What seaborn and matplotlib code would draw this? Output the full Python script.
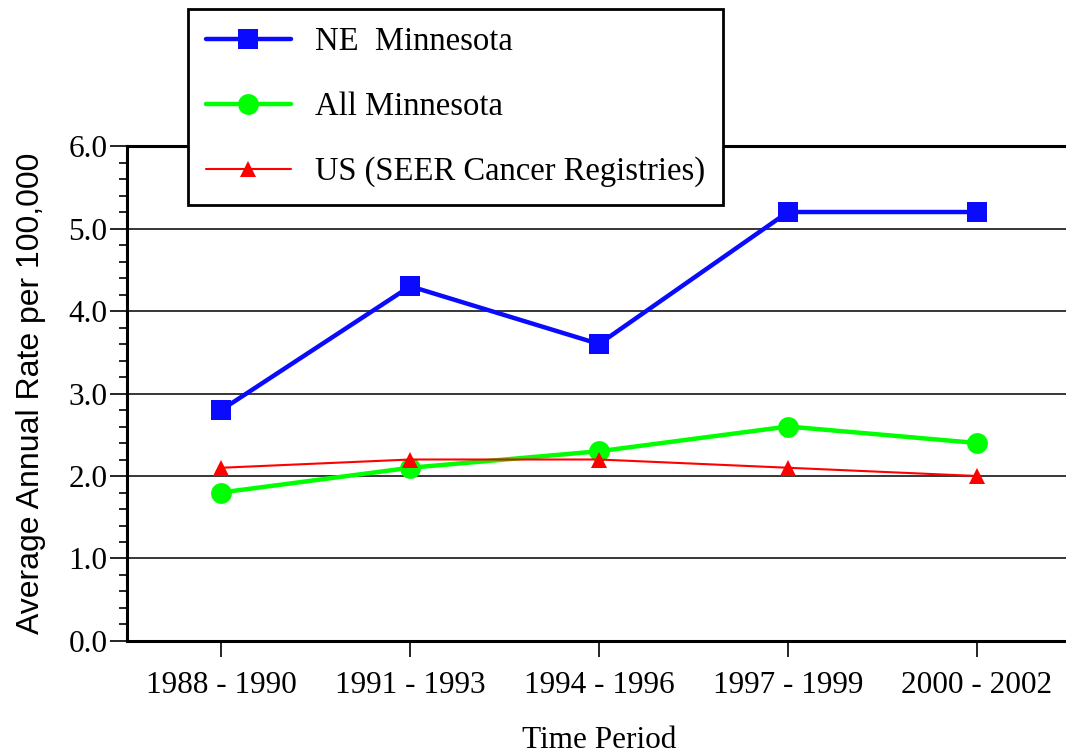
import matplotlib
matplotlib.use("Agg")
import matplotlib.pyplot as plt
import pandas as pd
import seaborn as sns
from matplotlib.ticker import MultipleLocator, FormatStrFormatter

periods = ["1988 - 1990", "1991 - 1993", "1994 - 1996", "1997 - 1999", "2000 - 2002"]
ne_minnesota = [2.8, 4.3, 3.6, 5.2, 5.2]
all_minnesota = [1.8, 2.1, 2.3, 2.6, 2.4]
us_seer = [2.1, 2.2, 2.2, 2.1, 2.0]

series_names = ["NE  Minnesota", "All Minnesota", "US (SEER Cancer Registries)"]

sns.set_style("ticks")
plt.rcParams["font.family"] = ["Liberation Serif", "DejaVu Serif"]
plt.rcParams["text.color"] = "black"
plt.rcParams["axes.labelcolor"] = "black"
plt.rcParams["xtick.color"] = "black"
plt.rcParams["ytick.color"] = "black"

fig = plt.figure(figsize=(10.66, 7.55), dpi=100)
ax = fig.add_axes([0.119, 0.151, 0.886, 0.6556])

styles = [
    (ne_minnesota, "#0a0aff", "s", 3.2, 15),
    (all_minnesota, "#00ff00", "o", 3.2, 15),
    (us_seer, "#ff0000", "^", 1.5, 11),
]
for name, (vals, color, marker, lw, ms) in zip(series_names, styles):
    df = pd.DataFrame({"period": periods, "rate": vals})
    sns.lineplot(
        data=df, x="period", y="rate", ax=ax, color=color, marker=marker,
        linewidth=lw, markersize=ms, markeredgewidth=0, label=name,
        sort=False,
    )

ax.set_xlim(-0.5, 4.5)
ax.set_ylim(0, 6)
ax.yaxis.set_major_locator(MultipleLocator(1))
ax.yaxis.set_minor_locator(MultipleLocator(0.2))
ax.yaxis.set_major_formatter(FormatStrFormatter("%.1f"))
ax.grid(axis="y", color="black", linewidth=1.1)
ax.set_axisbelow(True)

ax.tick_params(axis="y", which="major", length=12, width=1.2, labelsize=22.5, pad=2)
ax.tick_params(axis="y", which="minor", length=6, width=1.2)
ax.tick_params(axis="x", which="major", length=11.5, width=1.2, labelsize=22.5, pad=10)

for s in ["left", "bottom", "top"]:
    ax.spines[s].set_linewidth(2.2)
    ax.spines[s].set_color("black")
ax.spines["right"].set_visible(False)

ax.set_xlabel("Time Period", fontsize=22.5, labelpad=19)
ax.set_ylabel("Average Annual Rate per 100,000", fontsize=23,
              family=["Liberation Sans", "DejaVu Sans"], labelpad=16)

leg = ax.legend(
    loc="upper left", bbox_to_anchor=(188 / 1066, 1 - 9 / 755),
    bbox_transform=fig.transFigure, fontsize=23.5, frameon=True,
    fancybox=False, edgecolor="black", framealpha=1, borderpad=0.55,
    handlelength=2.6, handletextpad=0.75, labelspacing=1.05,
    borderaxespad=0,
)
leg.get_frame().set_linewidth(2)
leg.set_zorder(10)

fig.savefig("out.png", dpi=100)
